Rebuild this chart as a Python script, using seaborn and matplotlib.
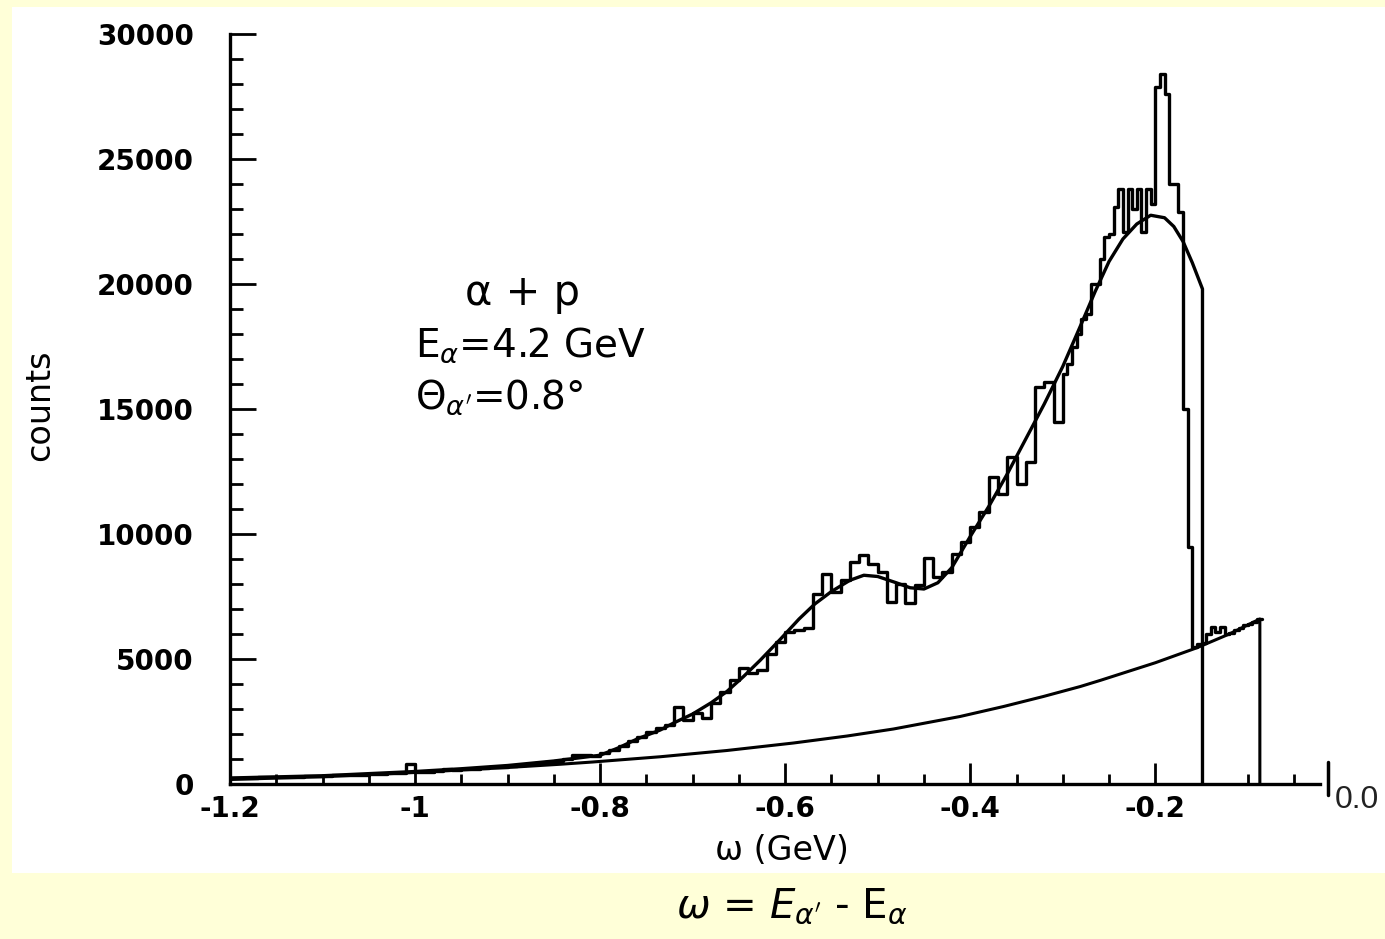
import numpy as np
import pandas as pd
import matplotlib
matplotlib.use("Agg")
import matplotlib.pyplot as plt
from matplotlib.patches import Rectangle
from matplotlib.ticker import MultipleLocator, FixedLocator
import seaborn as sns

# ---------------- data ----------------
# histogram: 0.01 GeV bins from -1.20 to -0.30, then 0.005 GeV bins from -0.30 to -0.085
coarse_start, coarse_width, coarse_n = -1.20, 0.01, 90
fine_start, fine_width, fine_n = -0.30, 0.005, 43

counts_coarse = [
    240, 250, 260, 270, 270, 290, 300, 300, 320, 330,        # -1.20 .. -1.11
    340, 350, 360, 370, 380, 400, 420, 430, 450, 820,        # -1.10 .. -1.01
    480, 500, 530, 600, 560, 620, 600, 640, 670, 700,        # -1.00 .. -0.91
    730, 770, 800, 850, 880, 940, 990, 1160, 1180, 1120,     # -0.90 .. -0.81
    1250, 1380, 1540, 1720, 1880, 2080, 2240, 2350, 3100, 2560,   # -0.80 .. -0.71
    2850, 2650, 3250, 3700, 4150, 4650, 4450, 4550, 5200, 5700,   # -0.70 .. -0.61
    6100, 6150, 6250, 7600, 8400, 7700, 8150, 8900, 9150, 8800,   # -0.60 .. -0.51
    8500, 7300, 8000, 7250, 7950, 9050, 8300, 8500, 9200, 9700,   # -0.50 .. -0.41
    10300, 10900, 12300, 11600, 13100, 12000, 12900, 15900, 16100, 14500,  # -0.40 .. -0.31
]
counts_fine = [
    16400, 16800, 17500, 18000, 18600, 18800, 20000, 20000,   # -0.300 .. -0.265
    21000, 21900, 22000, 23100, 23800, 22100, 23800, 23000,   # -0.260 .. -0.225
    23800, 22100, 23800, 23200, 27900, 28400, 27600, 24000,   # -0.220 .. -0.185
    24000, 22900, 15000, 9500, 5500, 5600, 5650, 6000,        # -0.180 .. -0.145
    6300, 6100, 6300, 6000, 6050, 6150, 6250, 6350,           # -0.140 .. -0.105
    6400, 6500, 6600,                                         # -0.100 .. -0.090
]

fit_x = [-1.20, -1.10, -1.00, -0.95, -0.90, -0.85, -0.80, -0.78, -0.76, -0.735,
         -0.72, -0.70, -0.68, -0.663, -0.645, -0.627, -0.605, -0.585, -0.568, -0.55,
         -0.53, -0.515, -0.50, -0.48, -0.465, -0.45, -0.435, -0.42, -0.40, -0.38,
         -0.36, -0.34, -0.32, -0.30, -0.28, -0.265, -0.25, -0.235, -0.22, -0.205,
         -0.19, -0.18, -0.17, -0.16, -0.149, -0.149]
fit_y = [240, 330, 500, 610, 740, 920, 1150, 1450, 1800, 2160,
         2450, 2800, 3250, 3700, 4300, 4950, 5800, 6600, 7200, 7700,
         8150, 8350, 8300, 8050, 7850, 7800, 8050, 8650, 9900, 11100,
         12400, 13800, 15200, 16700, 18400, 19700, 20900, 21800, 22400, 22750,
         22650, 22300, 21700, 20850, 19800, 0]

bg_x = [-1.20, -1.10, -1.00, -0.90, -0.843, -0.808, -0.735, -0.663, -0.591, -0.533,
        -0.483, -0.411, -0.364, -0.321, -0.281, -0.259, -0.20, -0.155, -0.12, -0.087,
        -0.087]
bg_y = [180, 290, 460, 660, 790, 880, 1090, 1340, 1640, 1920,
        2200, 2700, 3100, 3500, 3900, 4150, 4850, 5450, 6000, 6600,
        0]

x_ticks = [-1.2, -1.0, -0.8, -0.6, -0.4, -0.2]
x_tick_labels = ["-1.2", "-1", "-0.8", "-0.6", "-0.4", "-0.2"]
y_ticks = [0, 5000, 10000, 15000, 20000, 25000, 30000]
y_tick_labels = ["0", "5000", "10000", "15000", "20000", "25000", "30000"]

# ---------------- figure ----------------
sns.set_theme(style="ticks")
plt.rcParams["font.family"] = ["DejaVu Sans"]
plt.rcParams["mathtext.fontset"] = "dejavusans"

W, H = 1385, 939
fig = plt.figure(figsize=(W / 100, H / 100), dpi=100)
fig.patch.set_facecolor("#FFFFD8")
fig.add_artist(Rectangle((12 / W, (H - 873) / H), 1373 / W, 866 / H,
                         transform=fig.transFigure, facecolor="white",
                         edgecolor="none", zorder=-5))

ax_l, ax_r, ax_t, ax_b = 230, 1320, 34, 784
ax = fig.add_axes([ax_l / W, (H - ax_b) / H, (ax_r - ax_l) / W, (ax_b - ax_t) / H])
ax.set_facecolor("none")

edges = np.round(np.r_[coarse_start + coarse_width * np.arange(coarse_n),
                       fine_start + fine_width * np.arange(fine_n + 1)], 4)
counts = list(counts_coarse) + list(counts_fine)
centers = (edges[:-1] + edges[1:]) / 2
hist_df = pd.DataFrame({"omega": centers, "counts": counts})

sns.histplot(data=hist_df, x="omega", weights="counts", bins=list(edges),
             element="step", fill=False, color="black", linewidth=2.4, ax=ax)
sns.lineplot(x=fit_x, y=fit_y, estimator=None, sort=False, color="black",
             linewidth=2.4, ax=ax)
sns.lineplot(x=bg_x, y=bg_y, estimator=None, sort=False, color="black",
             linewidth=2.2, ax=ax)

ax.set_xlim(-1.2, -0.022)
ax.set_ylim(0, 30000)
sns.despine(ax=ax, top=True, right=True)
for s in ("left", "bottom"):
    ax.spines[s].set_linewidth(2.4)
    ax.spines[s].set_color("black")

ax.xaxis.set_major_locator(FixedLocator(x_ticks))
ax.set_xticklabels(x_tick_labels)
ax.xaxis.set_minor_locator(MultipleLocator(0.05))
ax.yaxis.set_major_locator(FixedLocator(y_ticks))
ax.set_yticklabels(y_tick_labels)
ax.yaxis.set_minor_locator(MultipleLocator(1000))

ax.tick_params(axis="x", which="major", direction="in", length=15, width=2,
               color="black", pad=8, labelsize=20)
ax.tick_params(axis="x", which="minor", direction="in", length=7, width=2, color="black")
ax.tick_params(axis="y", which="major", direction="in", length=19, width=2,
               color="black", pad=26, labelsize=20)
ax.tick_params(axis="y", which="minor", direction="in", length=9, width=2, color="black")
for lab in ax.get_xticklabels() + ax.get_yticklabels():
    lab.set_fontweight("bold")
    lab.set_color("black")

ax.set_xlabel("ω (GeV)", fontsize=24, color="black", va="center", ha="center")
ax.xaxis.set_label_coords((782 - ax_l) / (ax_r - ax_l), (ax_b - 850) / (ax_b - ax_t))
ax.set_ylabel("counts", fontsize=24, color="black", va="center", ha="center")
ax.yaxis.set_label_coords((40 - ax_l) / (ax_r - ax_l), (ax_b - 405) / (ax_b - ax_t))

# zero mark and its label at the end of the axis
ax.plot([-0.013, -0.013], [-450, 900], color="black", linewidth=2.5, clip_on=False)
ax.text(-0.006, -640, "0.0", fontsize=23, family="Liberation Sans", color="#222222",
        ha="left", va="center", clip_on=False)

# annotation
ax.text(-0.946, 19640, "α + p", fontsize=30, color="black", ha="left", va="center")
ax.text(-1.0, 17560, r"E$_\alpha$=4.2 GeV", fontsize=28, color="black", ha="left", va="center")
ax.text(-1.0, 15480, r"$\Theta_{\alpha'}$=0.8°", fontsize=28, color="black", ha="left", va="center")

# caption
fig.text(792 / W, (H - 906) / H, r"$\omega$ = $E_{\alpha'}$ - E$_\alpha$",
         fontsize=29, color="black", ha="center", va="center")

fig.savefig("out.png", dpi=100, facecolor=fig.get_facecolor())
